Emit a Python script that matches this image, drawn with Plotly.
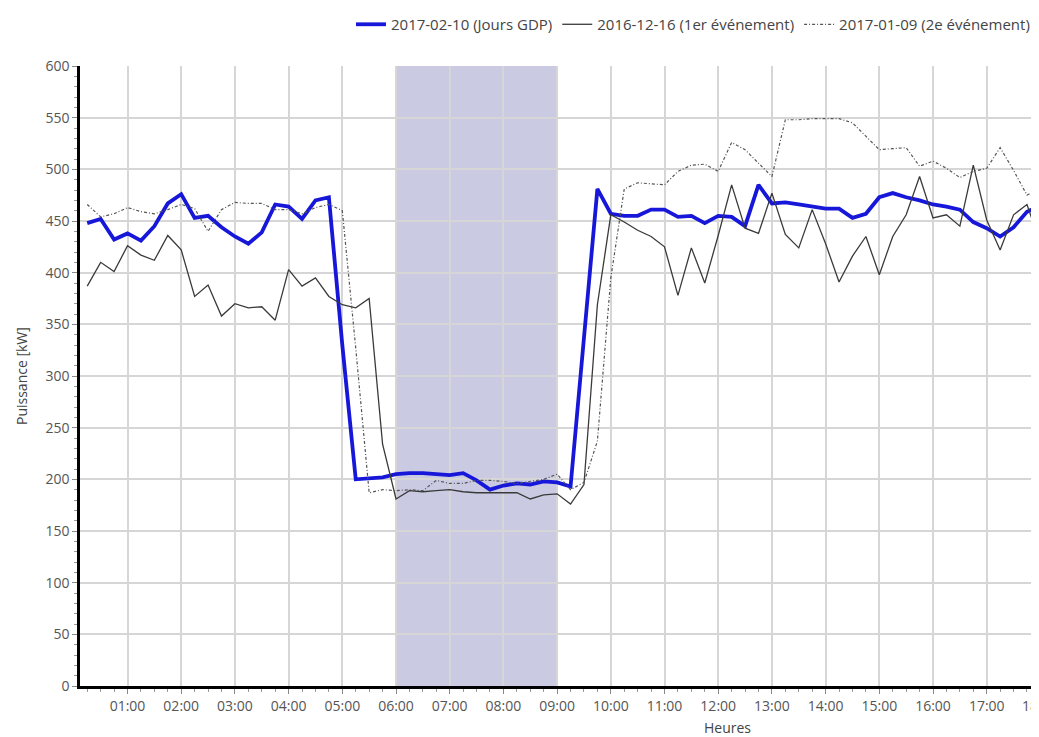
import plotly.graph_objects as go

# 15-minute steps from 00:15 to 18:00
times = [f"2017-02-10 {(15*k)//60:02d}:{(15*k)%60:02d}" for k in range(1, 73)]

gdp_2017_02_10 = [448, 452, 432, 438, 431, 445, 467, 476, 453, 455, 444, 435, 428, 439, 466, 464,
                  452, 470, 473, 330, 200, 201, 202, 205, 206, 206, 205, 204, 206, 199, 190, 194,
                  196, 195, 198, 197, 193, 335, 481, 457, 455, 455, 461, 461, 454, 455, 448, 455,
                  454, 445, 485, 467, 468, 466, 464, 462, 462, 453, 457, 473, 477, 473, 470, 466,
                  464, 461, 449, 443, 435, 444, 459, 465]

evt1_2016_12_16 = [387, 410, 401, 426, 417, 412, 436, 422, 377, 388, 358, 370, 366, 367, 354, 403,
                   387, 395, 377, 369, 366, 375, 234, 181, 189, 188, 189, 190, 188, 187, 187, 187,
                   187, 181, 185, 186, 176, 195, 369, 456, 449, 441, 435, 425, 378, 424, 390, 436,
                   485, 443, 438, 477, 437, 424, 461, 428, 391, 416, 435, 398, 435, 456, 493, 453,
                   456, 445, 504, 451, 422, 456, 466, 428]

evt2_2017_01_09 = [466, 454, 457, 463, 459, 457, 461, 466, 462, 440, 461, 468, 467, 467, 461, 461,
                   457, 463, 466, 460, 327, 187, 190, 189, 190, 189, 199, 196, 196, 199, 199, 198,
                   196, 198, 200, 205, 190, 197, 237, 395, 481, 487, 486, 485, 498, 504, 505, 498,
                   526, 519, 506, 493, 548, 548, 549, 549, 549, 545, 532, 519, 520, 521, 503, 508,
                   501, 492, 498, 501, 521, 499, 475, 482]

names = ["2017-02-10 (Jours GDP)", "2016-12-16 (1er événement)", "2017-01-09 (2e événement)"]
band_start, band_end = "2017-02-10 06:00", "2017-02-10 09:00"

FONT = "Open Sans"
fig = go.Figure()
fig.add_trace(go.Scatter(x=times, y=gdp_2017_02_10, name=names[0], mode="lines",
                         line=dict(color="#1717d9", width=3.8)))
fig.add_trace(go.Scatter(x=times, y=evt1_2016_12_16, name=names[1], mode="lines",
                         line=dict(color="#3a3a3a", width=1.3)))
fig.add_trace(go.Scatter(x=times, y=evt2_2017_01_09, name=names[2], mode="lines",
                         line=dict(color="#555555", width=1.2, dash="3px,2px,1px,2px")))

fig.add_shape(type="rect", xref="x", yref="paper", x0=band_start, x1=band_end, y0=0, y1=1,
              fillcolor="rgba(80,80,160,0.30)", line=dict(width=0), layer="between")

# page body has an 8px margin: the figure sits at (8, 8) in the window
fig.update_layout(
    width=1031, height=729,
    margin=dict(l=72, r=0, t=58, b=51),
    paper_bgcolor="white", plot_bgcolor="white",
    font=dict(family=FONT, size=14, color="#555555"),
    showlegend=True,
    legend=dict(orientation="h", x=0.9958, xanchor="right", y=1.0935, yanchor="top",
                font=dict(family=FONT, size=15, color="#444444"),
                bgcolor="rgba(0,0,0,0)", itemwidth=30, tracegroupgap=0),
)
fig.update_xaxes(
    type="date", range=["2017-02-10 00:06:55", "2017-02-10 17:58:25"],
    tick0="2017-02-10 00:00", dtick=3600000, tickformat="%H:%M",
    showgrid=True, gridcolor="#d6d6d6", gridwidth=1.5,
    showline=True, linecolor="black", linewidth=2.5,
    ticks="outside", ticklen=5, tickcolor="#888888",
    minor=dict(dtick=900000, ticks="outside", ticklen=3, tickcolor="#999999", showgrid=False),
    zeroline=False, tickfont=dict(size=14, color="#555555"),
)
fig.update_yaxes(
    range=[0, 600], dtick=50, showgrid=True, gridcolor="#d6d6d6", gridwidth=1.5,
    showline=True, linecolor="black", linewidth=2.5,
    ticks="outside", ticklen=5, tickcolor="#888888",
    minor=dict(dtick=10, ticks="outside", ticklen=3, tickcolor="#999999", showgrid=False),
    zeroline=False, tickfont=dict(size=14, color="#555555"),
)

fig.add_annotation(text="Heures", xref="paper", yref="paper", x=0.6747, y=-0.0665,
                   showarrow=False, font=dict(size=14, color="#444444"), xanchor="center", yanchor="middle")
fig.add_annotation(text="Puissance [kW]", xref="paper", yref="paper", x=-0.0615, y=0.5,
                   textangle=-90, showarrow=False, font=dict(size=14, color="#444444"),
                   xanchor="center", yanchor="middle")
fig.add_annotation(text="18:00", xref="paper", yref="paper", x=1.0015, y=0, yshift=-19,
                   showarrow=False, font=dict(size=14, color="#555555"), xanchor="center", yanchor="middle")

fig.write_html("out.html")
